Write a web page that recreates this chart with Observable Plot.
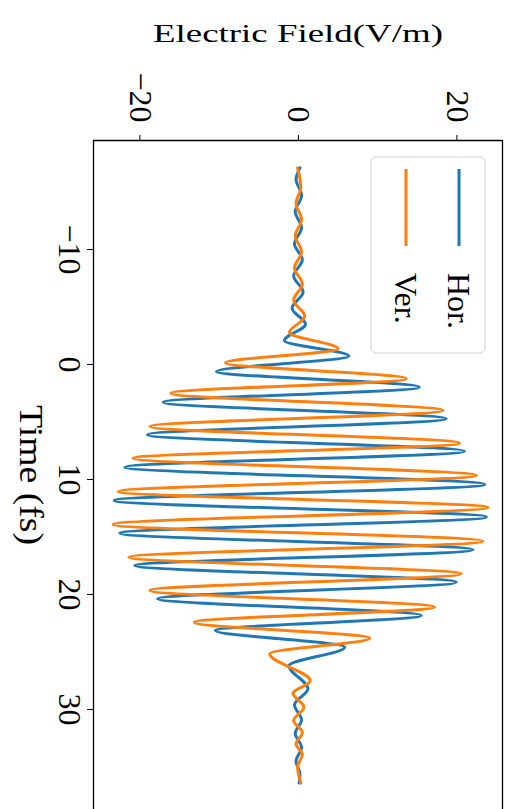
<!DOCTYPE html>
<html>
<head>
<meta charset="utf-8">
<script src="https://cdn.jsdelivr.net/npm/d3@7"></script>
<script src="https://cdn.jsdelivr.net/npm/@observablehq/plot@0.6"></script>
<style>
  html, body { margin: 0; padding: 0; background: #fff; overflow: hidden; }
  #chart { position: relative; width: 512px; height: 809px; }
</style>
</head>
<body>
<div id="chart"></div>
<script>
// ---- data ----
const seriesNames = ["Hor.", "Ver."];
const seriesColors = ["#1f77b4", "#ff7f0e"];

// Hor. (blue): local extrema (time fs, field V/m)
const horTime = [-17.1, -16.1, -14.7, -13.3, -11.9, -10.5, -9.1, -7.7, -6.3, -4.9, -3.5, -2.09, -0.74, 0.61, 1.97, 3.28, 4.72, 6.11, 7.54, 8.93, 10.43, 11.83, 13.26, 14.67, 16.11, 17.48, 18.93, 20.37, 21.83, 23.13, 24.58, 26.2, 28.2, 29.6, 30.9, 32.1, 33.3, 34.5, 35.6, 36.4];
const horField = [0.2, -0.3, 0.4, -0.4, 0.4, -0.5, 0.5, -0.6, 0.6, -0.8, 0.9, -1.77, 6.37, -10.34, 15.26, -17.06, 18.66, -19.08, 20.97, -21.9, 23.49, -23.24, 23.71, -22.53, 22.03, -20.64, 19.92, -17.78, 15.51, -10.47, 5.84, -1.2, 1.2, -0.5, 0.4, -0.4, 0.4, -0.3, 0.2, 0.1];

// Ver. (orange): local extrema (time fs, field V/m)
const verTime = [-17.1, -15.4, -14.0, -12.6, -11.2, -9.8, -8.4, -7.0, -5.6, -4.2, -2.78, -1.37, -0.15, 1.24, 2.5, 4.0, 5.39, 6.84, 8.15, 9.65, 11.04, 12.43, 13.91, 15.37, 16.76, 18.2, 19.65, 21.1, 22.41, 23.8, 25.16, 27.5, 28.6, 29.8, 30.96, 32.0, 33.0, 33.9, 35.0, 36.4];
const verField = [-0.1, 0.3, -0.3, 0.4, -0.4, 0.4, -0.5, 0.5, -0.6, 0.8, -1.13, 5.0, -9.2, 13.62, -16.1, 18.25, -18.75, 20.34, -20.85, 22.45, -22.74, 23.92, -23.37, 23.29, -21.4, 20.55, -18.75, 17.19, -13.15, 8.99, -3.62, 1.5, -0.7, 0.7, -0.6, 0.5, -0.3, 0.5, -0.1, 0.3];

const fieldTicks = [-20, 0, 20];
const fieldTickLabels = ["\u221220", "0", "20"];
const timeTicks = [-10, 0, 10, 20, 30];
const timeTickLabels = ["\u221210", "0", "10", "20", "30"];
const fieldDomain = [-25.85, 25.75];
const timeDomain = [-19.48, 38.7];
const fieldLabel = "Electric Field(V/m)";
const timeLabel = "Time (fs)";

// ---- build tidy table ----
const rows = [];
horTime.forEach((t, i) => rows.push({series: seriesNames[0], time: t, field: horField[i]}));
verTime.forEach((t, i) => rows.push({series: seriesNames[1], time: t, field: verField[i]}));

const FONT = "'Liberation Serif', 'DejaVu Serif', serif";

const plot = Plot.plot({
  width: 512,
  height: 809,
  marginLeft: 93,
  marginRight: 10,
  marginTop: 140,
  marginBottom: 0,
  style: {background: "#fff", fontFamily: FONT, overflow: "visible"},
  x: {domain: fieldDomain, axis: "top", ticks: fieldTicks, tickSize: 6, tickFormat: () => "", label: null},
  y: {domain: timeDomain, reverse: true, axis: "left", ticks: timeTicks, tickSize: 6, tickFormat: () => "", label: null},
  color: {domain: seriesNames, range: seriesColors},
  marks: [
    Plot.lineX(rows, {x: "field", y: "time", z: "series", stroke: "series", strokeWidth: 3, curve: "monotone-y"}),
    Plot.ruleX([fieldDomain[0], fieldDomain[1]], {stroke: "#000", strokeWidth: 1.3}),
    Plot.ruleY([timeDomain[0]], {stroke: "#000", strokeWidth: 1.3}),
    Plot.text(fieldTicks, {x: d => d, text: (d, i) => fieldTickLabels[i], frameAnchor: "top", dy: -18, rotate: 90,
      textAnchor: "end", lineAnchor: "middle", fontSize: 32, fontFamily: FONT, fill: "#000"}),
    Plot.text(timeTicks, {y: d => d, text: (d, i) => timeTickLabels[i], frameAnchor: "left", dx: -24, rotate: 90,
      textAnchor: "middle", lineAnchor: "middle", fontSize: 32, fontFamily: FONT, fill: "#000"})
  ]
});

document.getElementById("chart").appendChild(plot);

const svg = d3.select(plot);
// axis titles
svg.append("text")
  .attr("x", 153).attr("y", 42)
  .attr("text-anchor", "start")
  .attr("font-family", FONT).attr("font-size", 26)
  .attr("textLength", 290).attr("lengthAdjust", "spacingAndGlyphs")
  .attr("fill", "#000")
  .text(fieldLabel);

svg.append("text")
  .attr("transform", "translate(20,405) rotate(90)")
  .attr("text-anchor", "start")
  .attr("font-family", FONT).attr("font-size", 34)
  .attr("textLength", 140).attr("lengthAdjust", "spacingAndGlyphs")
  .attr("fill", "#000")
  .text(timeLabel);

// legend
const lg = svg.append("g");
lg.append("rect")
  .attr("x", 371).attr("y", 157).attr("width", 114).attr("height", 196)
  .attr("rx", 5).attr("ry", 5)
  .attr("fill", "#fff").attr("fill-opacity", 0.8)
  .attr("stroke", "#d0d0d0").attr("stroke-width", 1);
const legendX = [459, 406];
seriesNames.forEach((name, i) => {
  lg.append("line")
    .attr("x1", legendX[i]).attr("x2", legendX[i])
    .attr("y1", 169).attr("y2", 246)
    .attr("stroke", seriesColors[i]).attr("stroke-width", 3);
  lg.append("text")
    .attr("transform", `translate(${legendX[i] - 11},273) rotate(90)`)
    .attr("text-anchor", "start")
    .attr("font-family", FONT).attr("font-size", 32)
    .attr("fill", "#000")
    .text(name);
});
</script>
</body>
</html>
